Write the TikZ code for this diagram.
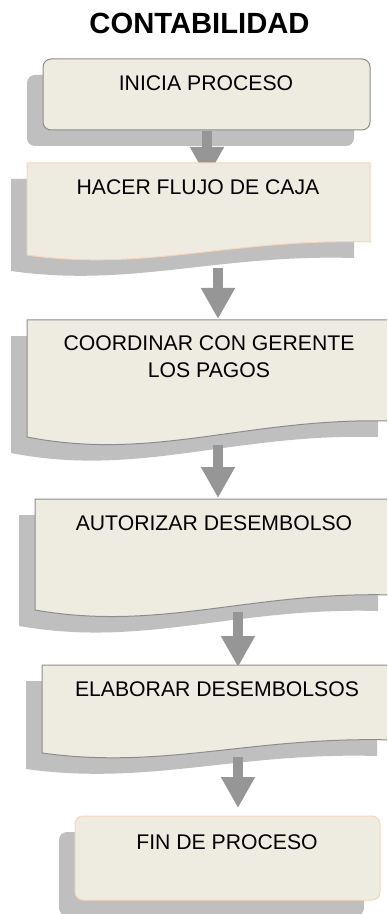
\documentclass[tikz,border=0pt]{standalone}
\usepackage{fontspec}
\setmainfont{Liberation Sans}
\usetikzlibrary{arrows.meta}
\definecolor{boxfill}{RGB}{238,236,225}
\definecolor{shade}{RGB}{191,191,191}
\definecolor{arrowgray}{RGB}{150,150,150}
\definecolor{edgegray}{RGB}{140,140,140}
\definecolor{edgepeach}{RGB}{250,212,185}
% document-shaped box: #1 L, #2 top, #3 R, #4 right-bottom y, #5 left-bottom y, #6 control y, #7 style
\newcommand\docbox[7]{%
  \path[#7] (#1,#2) -- (#3,#2) -- (#3,#4)
    .. controls ({#3-0.4*(#3-#1)},{#4-4}) and ({#1+0.35*(#3-#1)},{#6}) .. (#1,#5) -- cycle;}
\begin{document}
\begin{tikzpicture}[x=0.5pt,y=-0.5pt,
  shadowfill/.style={fill=shade,draw=none},
  boxgray/.style={fill=boxfill,draw=edgegray,line width=0.5pt},
  boxpeach/.style={fill=boxfill,draw=edgepeach,line width=0.5pt},
  termshadow/.style={shadowfill,rounded corners=4pt,minimum width=163.5pt,inner sep=0pt},
  txt/.style={font=\fontsize{10.6}{13.5}\selectfont,align=center,inner sep=0pt,text=black},
  flow/.style={draw=arrowgray,line width=5pt,-{Triangle[length=15.5pt,width=16pt]}}]
\useasboundingbox (0,0) rectangle (387,914);
\clip (0,0) rectangle (387,914);

% title
\node[font=\fontsize{14.6}{17}\selectfont\bfseries,inner sep=0pt] (title) at (199.5,23) {CONTABILIDAD};

% shadows
\node[termshadow,minimum height=35.5pt] (s1) at (190.5,110.5) {};
\begin{scope}[shift={(-16,16)}]
  \docbox{27}{163}{370}{242}{255}{272}{shadowfill}
  \docbox{27}{320}{394}{421}{437}{462}{shadowfill}
  \docbox{35}{499}{394}{595}{610}{632}{shadowfill}
  \docbox{42}{665}{393}{740}{753}{770}{shadowfill}
\end{scope}
\node[shadowfill,rounded corners=4pt,minimum width=152.5pt,minimum height=42pt,inner sep=0pt] (s6) at (211.5,874) {};

% connector end points
\coordinate (a1s) at (207,131);  \coordinate (a1e) at (207,178);
\coordinate (a2s) at (218,268);  \coordinate (a2e) at (218,319);
\coordinate (a3s) at (218,445);  \coordinate (a3e) at (218,498);
\coordinate (a4s) at (238,612);  \coordinate (a4e) at (238,667);
\coordinate (a5s) at (238,757);  \coordinate (a5e) at (238,808);
\draw[flow] (a1s) -- (a1e);
\draw[flow] (a2s) -- (a2e);
\draw[flow] (a3s) -- (a3e);
\draw[flow] (a4s) -- (a4e);
\draw[flow] (a5s) -- (a5e);

% boxes
\node[boxgray,rounded corners=4pt,minimum width=163.5pt,minimum height=35.5pt,inner sep=0pt] (b1) at (206.5,94.5) {};
\docbox{27}{163}{370}{242}{255}{272}{boxpeach}
\docbox{27}{320}{394}{421}{437}{462}{boxgray}
\docbox{35}{499}{394}{595}{610}{632}{boxgray}
\docbox{42}{665}{393}{740}{753}{770}{boxgray}
\node[boxpeach,rounded corners=4pt,minimum width=152.5pt,minimum height=42pt,inner sep=0pt] (b6) at (227.5,858) {};

% texts
\node[txt] (t1) at (206,83.5) {INICIA PROCESO};
\node[txt] (t2) at (198,187) {HACER FLUJO DE CAJA};
\node[txt] (t3) at (209,357) {COORDINAR CON GERENTE\\LOS PAGOS};
\node[txt] (t4) at (214,523.5) {AUTORIZAR DESEMBOLSO};
\node[txt] (t5) at (217,689.5) {ELABORAR DESEMBOLSOS};
\node[txt] (t6) at (227,842) {FIN DE PROCESO};
\end{tikzpicture}
\end{document}
